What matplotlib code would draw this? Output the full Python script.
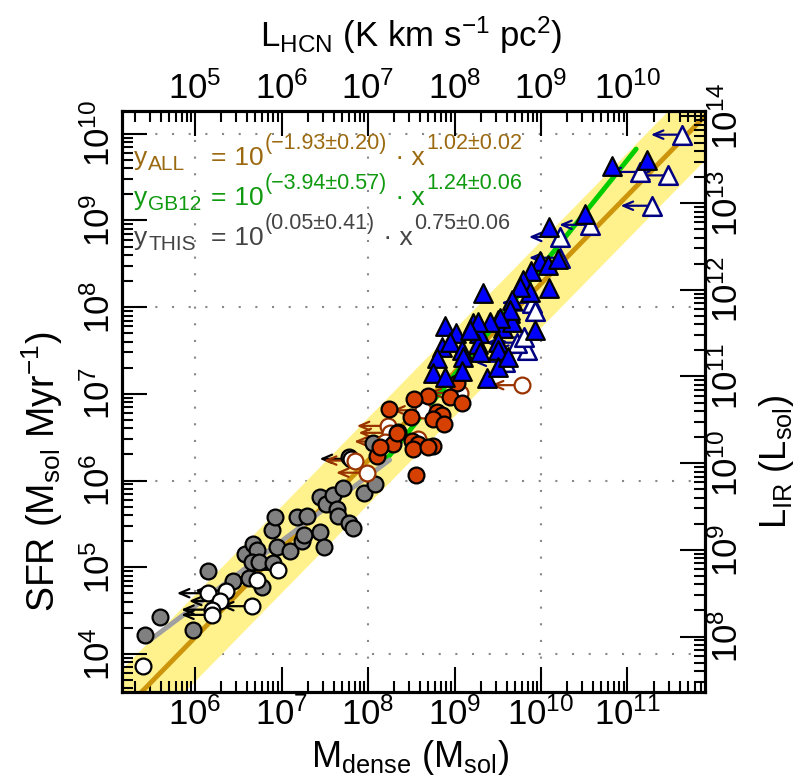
import numpy as np
import matplotlib.pyplot as plt
from matplotlib.ticker import LogLocator, FixedLocator, LogFormatterMathtext, NullFormatter

plt.rcParams['font.family'] = 'Liberation Sans'
plt.rcParams['mathtext.fontset'] = 'custom'
plt.rcParams['mathtext.rm'] = 'Liberation Sans'
plt.rcParams['mathtext.it'] = 'Liberation Sans:italic'
plt.rcParams['mathtext.bf'] = 'Liberation Sans:bold'
plt.rcParams['mathtext.default'] = 'regular'

# log10 M_dense, log10 SFR
gray_m = [5.42, 5.60, 5.98, 6.15, 6.44, 6.62, 6.77, 6.58, 6.67, 6.72, 6.66, 6.74, 6.89, 6.92,
          6.90, 6.95, 7.10, 7.18, 7.29, 7.24, 7.26, 7.45, 7.49, 7.45, 7.51, 7.60, 7.71, 7.64,
          7.65, 7.78, 7.83, 7.78, 7.95, 8.08, 8.06]
gray_s = [4.22, 4.42, 4.28, 4.96, 4.84, 4.87, 4.77, 5.15, 5.27, 5.20, 5.06, 5.06, 5.43, 5.58,
          5.05, 5.23, 5.19, 5.58, 5.59, 5.30, 5.37, 5.41, 5.23, 5.81, 5.73, 5.83, 5.91, 5.67,
          5.59, 5.51, 5.45, 6.27, 5.86, 5.96, 6.43]

white_m = [5.40, 6.15, 6.36, 6.29, 6.20, 6.20, 6.66, 6.72, 6.96, 7.80]
white_s = [3.86, 4.70, 4.73, 4.61, 4.51, 4.45, 4.55, 4.85, 4.97, 6.25]

red_m = [9.03, 8.69, 8.53, 8.95, 9.09, 8.24, 8.50, 8.80, 8.86, 8.75, 8.88, 8.35, 8.29, 8.51,
         8.58, 8.52, 8.75, 8.69, 8.10, 8.14, 8.55, 8.34]
red_s = [7.13, 6.98, 6.94, 6.96, 6.89, 6.83, 6.73, 6.79, 6.76, 6.71, 6.65, 6.56, 6.42, 6.46,
         6.42, 6.36, 6.40, 6.39, 6.28, 6.39, 6.06, 6.55]

ored_m = [9.78, 9.06, 8.64, 8.23, 8.25, 7.99, 7.85, 8.58, 8.20]
ored_s = [7.10, 7.01, 6.81, 6.63, 6.55, 6.09, 6.23, 6.48, 6.45]

blue_m = [8.89, 9.02, 8.86, 8.95, 8.80, 8.75, 8.89, 9.09, 9.10, 9.09, 9.21, 9.28, 9.27, 9.29,
          9.38, 9.50, 9.56, 9.50, 9.50, 9.50, 9.64, 9.66, 9.62, 9.93, 10.82, 11.23, 10.51,
          10.09, 9.33, 9.99, 10.08, 9.88, 9.79, 9.87, 10.09, 9.76, 9.66, 9.64, 9.53, 9.41,
          9.27, 9.18, 10.20]
blue_s = [7.78, 7.70, 7.54, 7.60, 7.41, 7.24, 7.19, 7.51, 7.43, 7.26, 7.82, 7.70, 7.58, 7.48,
          7.18, 7.85, 7.76, 7.60, 7.51, 7.31, 7.93, 7.83, 7.43, 7.74, 9.63, 9.70, 9.07,
          8.92, 8.16, 8.53, 8.49, 8.42, 8.31, 8.18, 8.22, 8.23, 8.08, 7.97, 7.88, 7.83,
          7.83, 7.74, 8.56]

oblue_m = [11.63, 11.14, 11.47, 11.28, 10.57, 10.22, 10.22, 9.90, 9.93, 9.84, 9.72, 9.58, 9.80]
oblue_s = [9.99, 9.56, 9.52, 9.17, 8.95, 8.81, 8.57, 8.05, 7.96, 7.51, 7.59, 7.37, 7.65]

# fits: log SFR = a + b log M
fit_all = (-1.93, 1.02)
fit_gb12 = (-3.94, 1.24)
fit_this = (0.05, 0.75)

# labelled decades on each axis
xdec = [6, 7, 8, 9, 10, 11]
topdec = [5, 6, 7, 8, 9, 10]
ydec = [4, 5, 6, 7, 8, 9, 10]
rdec = [8, 9, 10, 11, 12, 13, 14]

fig = plt.figure(figsize=(7.99, 7.84), dpi=100)
ax = fig.add_axes([122/799, 1-692/784, 583/799, 581/784])
ax.set_xscale('log')
ax.set_yscale('log')
xlim = (10**5.156, 10**11.896)
ylim = (10**3.56, 10**10.263)
ax.set_xlim(xlim)
ax.set_ylim(ylim)

# grid every second decade
for v in [1e6, 1e8, 1e10]:
    ax.axvline(v, color='#888888', lw=1.5, ls=(0, (1, 7)), zorder=0)
for v in [1e4, 1e6, 1e8, 1e10]:
    ax.axhline(v, color='#888888', lw=1.5, ls=(0, (1, 7)), zorder=0)

lm = np.linspace(5.0, 12.0, 50)
ls_all = fit_all[0] + fit_all[1]*lm
ax.fill_between(10**lm, 10**(ls_all-0.5), 10**(ls_all+0.5), color='#FFF28C', lw=0, zorder=1)
ax.plot(10**lm, 10**ls_all, color='#CD950C', lw=3.5, zorder=2)
lg = np.linspace(8.2, 11.1, 20)
ax.plot(10**lg, 10**(fit_gb12[0]+fit_gb12[1]*lg), color='#00CD00', lw=3.5, zorder=2,
        solid_capstyle='round')
lt = np.linspace(5.45, 8.25, 20)
ax.plot(10**lt, 10**(fit_this[0]+fit_this[1]*lt), color='#A0A0A0', lw=3.5, zorder=2,
        solid_capstyle='round')


def arrows(mm, ss, col):
    for a, b in zip(mm, ss):
        ax.annotate('', xy=(10**(a-0.36), 10**b), xytext=(10**a, 10**b),
                    arrowprops=dict(arrowstyle='->,head_length=0.7,head_width=0.3',
                                    color=col, lw=1.6, shrinkA=0, shrinkB=0), zorder=3)


arrows(white_m, white_s, 'black')
arrows(ored_m, ored_s, '#993300')
arrows(oblue_m, oblue_s, '#000080')

ms = 130
ax.scatter(10**np.array(gray_m), 10**np.array(gray_s), s=ms, c='#808080', edgecolors='black', lw=1.6, zorder=4)
ax.scatter(10**np.array(white_m), 10**np.array(white_s), s=ms, c='white', edgecolors='black', lw=1.6, zorder=4)
ax.scatter(10**np.array(ored_m), 10**np.array(ored_s), s=ms, c='white', edgecolors='#993300', lw=1.6, zorder=4)
ax.scatter(10**np.array(red_m), 10**np.array(red_s), s=ms, c='#D64000', edgecolors='black', lw=1.6, zorder=4)
ax.scatter(10**np.array(oblue_m), 10**np.array(oblue_s), s=180, marker='^', c='white', edgecolors='#000080', lw=1.8, zorder=4)
ax.scatter(10**np.array(blue_m), 10**np.array(blue_s), s=180, marker='^', c='#0000FF', edgecolors='black', lw=1.6, zorder=4)

# secondary axes
axt = ax.twiny()
axt.set_xscale('log')
axt.set_xlim(xlim[0]/10, xlim[1]/10)
axr = ax.twinx()
axr.set_yscale('log')
axr.set_ylim(ylim[0]*10**3.8, ylim[1]*10**3.8)

for a in (ax, axt, axr):
    for sp in a.spines.values():
        sp.set_linewidth(2.2)
    a.tick_params(which='major', direction='in', length=18, width=1.5, labelsize=25, pad=6)
    a.tick_params(which='minor', direction='in', length=8, width=1.5)
    for axis in (a.xaxis, a.yaxis):
        axis.set_minor_locator(LogLocator(base=10, subs=np.arange(2, 10), numticks=20))
        axis.set_major_formatter(LogFormatterMathtext())
        axis.set_minor_formatter(NullFormatter())

ax.xaxis.set_major_locator(FixedLocator([10.0**d for d in xdec]))
ax.yaxis.set_major_locator(FixedLocator([10.0**d for d in ydec]))
axt.xaxis.set_major_locator(FixedLocator([10.0**d for d in topdec]))
axr.yaxis.set_major_locator(FixedLocator([10.0**d for d in rdec]))

ax.tick_params(top=False, right=False)
ax.tick_params(axis='y', labelrotation=90, pad=4)
for t in ax.get_yticklabels():
    t.set_va('center')
axr.tick_params(axis='y', labelrotation=90, pad=4)
for t in axr.get_yticklabels():
    t.set_va('center')
ax.tick_params(axis='x', pad=4)
axt.tick_params(axis='x', pad=4)


def ft(x, y, s, **kw):
    return fig.text(x/799, 1-y/784, s, **kw)


ft(410, 767, r'M$_{dense}$ (M$_{sol}$)', ha='center', va='baseline', fontsize=26)
ft(411, 47, r'L$_{HCN}$ (K km s$^{-1}$ pc$^{2}$)', ha='center', va='baseline', fontsize=25)
ft(42, 472, r'SFR (M$_{sol}$ Myr$^{-1}$)', ha='center', va='center', rotation=90, fontsize=27)
ft(776, 462, r'L$_{IR}$ (L$_{sol}$)', ha='center', va='center', rotation=90, fontsize=26)

# fit equations, laid out piece by piece (R style: large super/subscripts)
renderer = fig.canvas.get_renderer()
eq_lines = [
    ('ALL', '(\u22121.93\u00b10.20)', '1.02\u00b10.02', '#9B6A10', 165),
    ('GB12', '(\u22123.94\u00b10.57)', '1.24\u00b10.06', '#109A10', 205),
    ('THIS', '(0.05\u00b10.41)', '0.75\u00b10.06', '#444444', 245),
]
for sub, e1, e2, col, yb in eq_lines:
    pieces = [('y', 19, 0, 134), (sub, 15, -5, None), ('=', 19, 0, 211), (' 10', 19, 0, None),
              (e1, 15.5, 16, None), (' \u00b7 x', 19, 0, None), (e2, 15.5, 16, None)]
    x = 134
    for s, size, dy, fixed in pieces:
        if fixed is not None:
            x = fixed
        t = ft(x, yb - dy, s, fontsize=size, color=col, va='baseline', ha='left')
        x = t.get_window_extent(renderer).x1 + 1

fig.savefig('out.png', dpi=100)
